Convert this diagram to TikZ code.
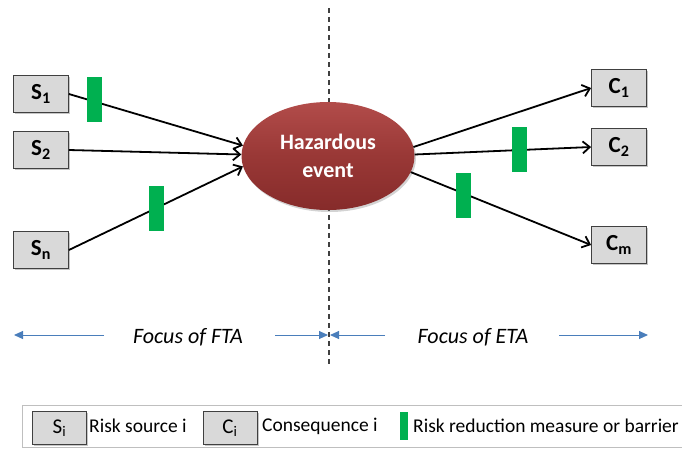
\documentclass[tikz,border=0pt]{standalone}
\usepackage{fontspec}
\setmainfont{Carlito}
\usetikzlibrary{arrows.meta,shapes.geometric,shadows}
\definecolor{boxfill}{HTML}{D9D9D9}
\definecolor{boxline}{HTML}{404040}
\definecolor{barrier}{HTML}{00B050}
\definecolor{focus}{HTML}{4A7EBB}
\definecolor{evtop}{HTML}{B24C4A}
\definecolor{evmid}{HTML}{993836}
\definecolor{evbot}{HTML}{862B2A}
\begin{document}
\begin{tikzpicture}[x=1pt,y=-1pt,
  riskbox/.style={draw=boxline,line width=0.8pt,fill=boxfill,
    minimum width=55pt,minimum height=37pt,inner sep=0pt,
    font=\fontsize{23}{25}\selectfont\bfseries,
    drop shadow={shadow xshift=1.5pt,shadow yshift=-1.5pt,opacity=0.45}},
  legbox/.style={riskbox,minimum width=54pt,minimum height=33pt,
    font=\fontsize{21}{23}\selectfont},
  barrierbar/.style={fill=barrier,draw=none,minimum width=15pt,minimum height=45pt,inner sep=0pt},
  flow/.style={line width=1.8pt,-{Straight Barb[length=7pt,width=12pt,line width=1.8pt]}},
  focusarrow/.style={focus,line width=1pt,-{Triangle[length=9pt,width=8pt]}},
  focuslabel/.style={font=\fontsize{22}{24}\selectfont\itshape},
  legtext/.style={font=\fontsize{19.5}{21}\selectfont,anchor=west,inner sep=0pt}]
\useasboundingbox (0,0) rectangle (682,448);

% divider between the two analysis halves
\draw[line width=1.2pt,dash pattern=on 5pt off 4pt,black!75] (329,8) coordinate (dtop) -- (329,367) coordinate (dbot);

% central event
\node[ellipse,minimum width=173pt,minimum height=108pt,
  top color=evtop,bottom color=evbot,middle color=evmid,draw=none,
  drop shadow={shadow xshift=1.5pt,shadow yshift=-2pt,opacity=0.35},
  text=white,align=center,font=\fontsize{22}{28}\selectfont\bfseries] (he) at (328,156) {Hazardous\\event};

% sources
\node[riskbox] (s1) at (41,94) {S$_{\mathbf 1}$};
\node[riskbox] (s2) at (41,150) {S$_{\mathbf 2}$};
\node[riskbox] (sn) at (41,250) {S$_{\mathbf n}$};

% consequences
\node[riskbox] (c1) at (619,88) {C$_{\mathbf 1}$};
\node[riskbox] (c2) at (619,147) {C$_{\mathbf 2}$};
\node[riskbox] (cm) at (619,245) {C$_{\mathbf m}$};

% causal arrows
\draw[flow] (s1.east) -- (he.173);
\draw[flow] (s2.east) -- (he.179);
\draw[flow] (sn.east) -- (he.187);
\draw[flow] (he.6) -- (c1.west);
\draw[flow] (he.1) -- (c2.west);
\draw[flow] (he.-11) -- (cm.west);

% barriers
\node[barrierbar] (b1) at (94,99) {};
\node[barrierbar] (bn) at (156.5,208.5) {};
\node[barrierbar] (b2) at (519.5,149.5) {};
\node[barrierbar] (bm) at (463.5,195.5) {};

% focus ranges
\node[focuslabel] (fta) at (188,337) {Focus of FTA};
\node[focuslabel] (eta) at (473,337) {Focus of ETA};
\coordinate (fl) at (14,335);
\coordinate (fr) at (648,335);
\coordinate (mid) at (329,335);
\draw[focusarrow] (104,335) coordinate (a1) -- (fl);
\draw[focusarrow] (275,335) coordinate (a2) -- ([xshift=-1pt]mid);
\draw[focusarrow] (385,335) coordinate (a3) -- ([xshift=1pt]mid);
\draw[focusarrow] (559,335) coordinate (a4) -- (fr);

% legend
\draw[black!25,line width=0.8pt] (690,405) -- (22,405) -- (22,447) -- (690,447);
\node[legbox] (ls) at (59.5,428) {S$_{\mathrm i}$};
\node[legtext] (lst) at (89,426) {Risk source i};
\node[legbox] (lc) at (230,428) {C$_{\mathrm i}$};
\node[legtext] (lct) at (262,426) {Consequence i};
\node[fill=barrier,minimum width=8pt,minimum height=28pt,inner sep=0pt] (lb) at (404,426) {};
\node[legtext] (lbt) at (413,426) {Risk reduction measure or barrier};
\end{tikzpicture}
\end{document}
